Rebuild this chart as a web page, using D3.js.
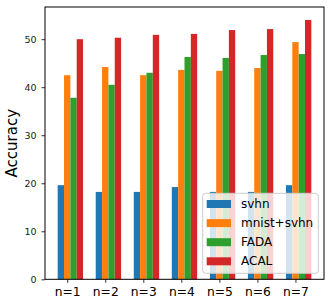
<!DOCTYPE html>
<html>
<head>
<meta charset="utf-8">
<script src="https://cdn.jsdelivr.net/npm/d3@7"></script>
<style>
  body { margin: 0; background: #fff; }
  svg { display: block; font-family: "DejaVu Sans", sans-serif; }
</style>
</head>
<body>
<svg id="chart"></svg>
<script>
// data
var groups = ["n=1", "n=2", "n=3", "n=4", "n=5", "n=6", "n=7"];
var seriesNames = ["svhn", "mnist+svhn", "FADA", "ACAL"];
var svhn = [19.6, 18.2, 18.2, 19.2, 18.2, 18.2, 19.6];
var mnistSvhn = [42.5, 44.2, 42.5, 43.6, 43.4, 44.0, 49.4];
var fada = [37.8, 40.5, 43.0, 46.3, 46.1, 46.7, 46.9];
var acal = [50.0, 50.3, 50.9, 51.1, 51.9, 52.1, 54.0];
var yTicks = [0, 10, 20, 30, 40, 50];
var colors = ["#1f77b4", "#ff7f0e", "#2ca02c", "#d62728"];

var series = [svhn, mnistSvhn, fada, acal];

var width = 335, height = 302;
var plot = { left: 45, right: 324, top: 7, bottom: 279.3 };
var barW = 1 / 6;

var svg = d3.select("#chart")
    .attr("width", width)
    .attr("height", height);

// x positions: group i at i+1, bars at offsets -w, 0, +w, +2w
var xMin = 1 - 1.5 * barW, xMax = groups.length + 2.5 * barW;
var pad = (xMax - xMin) * 0.05;
var xScale = d3.scaleLinear()
    .domain([xMin - pad, xMax + pad])
    .range([plot.left, plot.right]);

var yMax = d3.max(acal) * 1.05;
var yScale = d3.scaleLinear()
    .domain([0, yMax])
    .range([plot.bottom, plot.top]);

// bars
series.forEach(function (vals, k) {
    svg.append("g")
        .selectAll("rect")
        .data(vals)
        .enter()
        .append("rect")
        .attr("x", function (d, i) { return xScale(i + 1 + (k - 1) * barW - barW / 2); })
        .attr("y", function (d) { return yScale(d); })
        .attr("width", function () { return xScale(barW) - xScale(0); })
        .attr("height", function (d) { return yScale(0) - yScale(d); })
        .attr("fill", colors[k]);
});

// y axis
var yAxis = d3.axisLeft(yScale)
    .tickValues(yTicks)
    .tickSize(3.5)
    .tickPadding(5);
var gy = svg.append("g")
    .attr("transform", "translate(" + plot.left + ",0)")
    .call(yAxis);
gy.select(".domain").remove();
gy.selectAll("text").attr("font-size", "9.5px").attr("fill", "#222").attr("font-family", "DejaVu Sans");
gy.selectAll("line").attr("stroke", "#000").attr("stroke-width", 0.8);

// x axis
var xAxis = d3.axisBottom(xScale)
    .tickValues(d3.range(1, groups.length + 1))
    .tickFormat(function (d) { return groups[d - 1]; })
    .tickSize(3.5)
    .tickPadding(4);
var gx = svg.append("g")
    .attr("transform", "translate(0," + plot.bottom + ")")
    .call(xAxis);
gx.select(".domain").remove();
gx.selectAll("text").attr("font-size", "12.3px").attr("fill", "#000").attr("font-family", "DejaVu Sans");
gx.selectAll("line").attr("stroke", "#000").attr("stroke-width", 0.8);

// frame
svg.append("rect")
    .attr("x", plot.left)
    .attr("y", plot.top)
    .attr("width", plot.right - plot.left)
    .attr("height", plot.bottom - plot.top)
    .attr("fill", "none")
    .attr("stroke", "#000")
    .attr("stroke-width", 1);

// y label
svg.append("text")
    .attr("transform", "translate(12," + (plot.top + plot.bottom) / 2 + ") rotate(-90)")
    .attr("text-anchor", "middle")
    .attr("dominant-baseline", "central")
    .attr("font-size", "15px")
    .text("Accuracy");

// legend
var leg = svg.append("g");
leg.append("rect")
    .attr("x", 202.7)
    .attr("y", 193.3)
    .attr("width", 115.6)
    .attr("height", 80)
    .attr("rx", 3)
    .attr("fill", "#fff")
    .attr("fill-opacity", 0.8)
    .attr("stroke", "#cccccc")
    .attr("stroke-width", 1);

seriesNames.forEach(function (name, k) {
    var cy = 204 + k * 19.1;
    leg.append("rect")
        .attr("x", 206.7)
        .attr("y", cy - 4)
        .attr("width", 24.3)
        .attr("height", 8)
        .attr("fill", colors[k]);
    leg.append("text")
        .attr("x", 241)
        .attr("y", cy)
        .attr("dominant-baseline", "central")
        .attr("font-size", "12px")
        .text(name);
});
</script>
</body>
</html>
